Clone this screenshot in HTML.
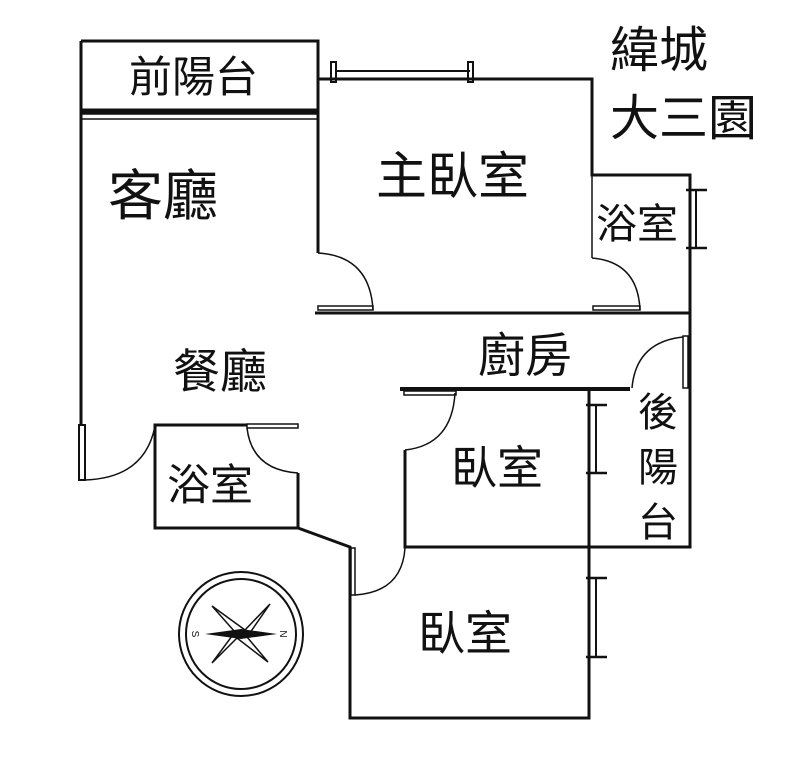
<!DOCTYPE html>
<html><head><meta charset="utf-8"><style>
html,body{margin:0;padding:0;background:#fff;width:800px;height:774px;overflow:hidden}
svg{display:block}
text{font-family:"Liberation Sans","Noto Sans CJK TC",sans-serif;fill:#111}
</style></head><body>
<svg width="800" height="774" viewBox="0 0 800 774" xmlns="http://www.w3.org/2000/svg">
<g fill="none" stroke="#111" stroke-width="3">
<path d="M81 41 H318 V253"/>
<line x1="81" y1="111" x2="318" y2="111" stroke-width="5"/>
<rect x="81" y="114" width="237" height="5" stroke-width="1.5"/>
<line x1="81" y1="41" x2="81" y2="425"/>
<rect x="79" y="425" width="6" height="55" stroke-width="2"/>
<path d="M85 480 Q145 478 155 426" stroke-width="1.5"/>
<path d="M318 79 H592 V175 H690 V547 H405 V450"/>
<path d="M336 71 H470" stroke-width="2"/>
<rect x="331" y="62" width="5" height="20" stroke-width="2"/>
<rect x="468" y="62" width="5" height="20" stroke-width="2"/>
<line x1="592" y1="175" x2="592" y2="258" stroke-width="1.5"/>
<path d="M592 258 Q638 262 640 310" stroke-width="1.5"/>
<rect x="593" y="306" width="47" height="4" stroke-width="1.5"/>
<path d="M318 253 Q370 256 373 310" stroke-width="1.5"/>
<rect x="318" y="306" width="55" height="4" stroke-width="1.5"/>
<line x1="315" y1="313" x2="690" y2="313"/>
<line x1="696" y1="190" x2="696" y2="248" stroke-width="2"/>
<line x1="686" y1="190" x2="707" y2="190" stroke-width="2.5"/>
<line x1="686" y1="248" x2="707" y2="248" stroke-width="2.5"/>
<line x1="400" y1="389" x2="630" y2="389" stroke-width="4"/>
<rect x="404" y="391" width="52" height="4" stroke-width="1.5"/>
<path d="M455 393 Q452 445 405 450" stroke-width="1.5"/>
<rect x="683" y="336" width="5" height="52" stroke-width="1.5"/>
<path d="M683 337 Q636 342 632 388" stroke-width="1.5"/>
<path d="M589 389 V718 H350 V547 L298 528 H155 V425 H247"/>
<rect x="247" y="424" width="51" height="4" stroke-width="1.5"/>
<path d="M247 428 Q252 470 298 473" stroke-width="1.5"/>
<line x1="298" y1="473" x2="298" y2="528"/>
<rect x="351" y="548" width="4" height="47" stroke-width="1.5"/>
<path d="M355 595 Q402 592 405 548" stroke-width="1.5"/>
<line x1="596" y1="405" x2="596" y2="473" stroke-width="2"/>
<line x1="586" y1="405" x2="607" y2="405" stroke-width="2.5"/>
<line x1="586" y1="473" x2="607" y2="473" stroke-width="2.5"/>
<line x1="596" y1="578" x2="596" y2="657" stroke-width="2"/>
<line x1="586" y1="578" x2="607" y2="578" stroke-width="2.5"/>
<line x1="586" y1="657" x2="607" y2="657" stroke-width="2.5"/>
<circle cx="241" cy="634" r="62" stroke-width="2"/>
<circle cx="241" cy="634" r="55" stroke-width="2"/>
<path d="M212 606 L245 630 L270 604 L247 637 L268 662 L237 638 L212 663 L235 632 Z" stroke-width="1.5" fill="#fff"/>
</g>
<path d="M205 634 L241 629 L277 634 L241 639 Z" fill="#111"/>
<text x="196" y="638" font-size="10" transform="rotate(90 196 634)" text-anchor="middle">S</text>
<text x="284" y="638" font-size="10" transform="rotate(90 284 634)" text-anchor="middle">N</text>
<text x="129" y="92" font-size="43">前陽台</text>
<text x="108" y="215" font-size="55">客廳</text>
<text x="376" y="194" font-size="51">主臥室</text>
<text x="596" y="238" font-size="41">浴室</text>
<text x="478" y="372" font-size="47">廚房</text>
<text x="173" y="388" font-size="47">餐廳</text>
<text x="167" y="500" font-size="43">浴室</text>
<text x="451" y="484" font-size="46">臥室</text>
<text x="418" y="650" font-size="47">臥室</text>
<text x="638" y="426" font-size="40">後</text>
<text x="638" y="481" font-size="40">陽</text>
<text x="638" y="536" font-size="40">台</text>
<text x="610" y="67" font-size="49">緯城</text>
<text x="610" y="135" font-size="49">大三園</text>
</svg>
</body></html>
